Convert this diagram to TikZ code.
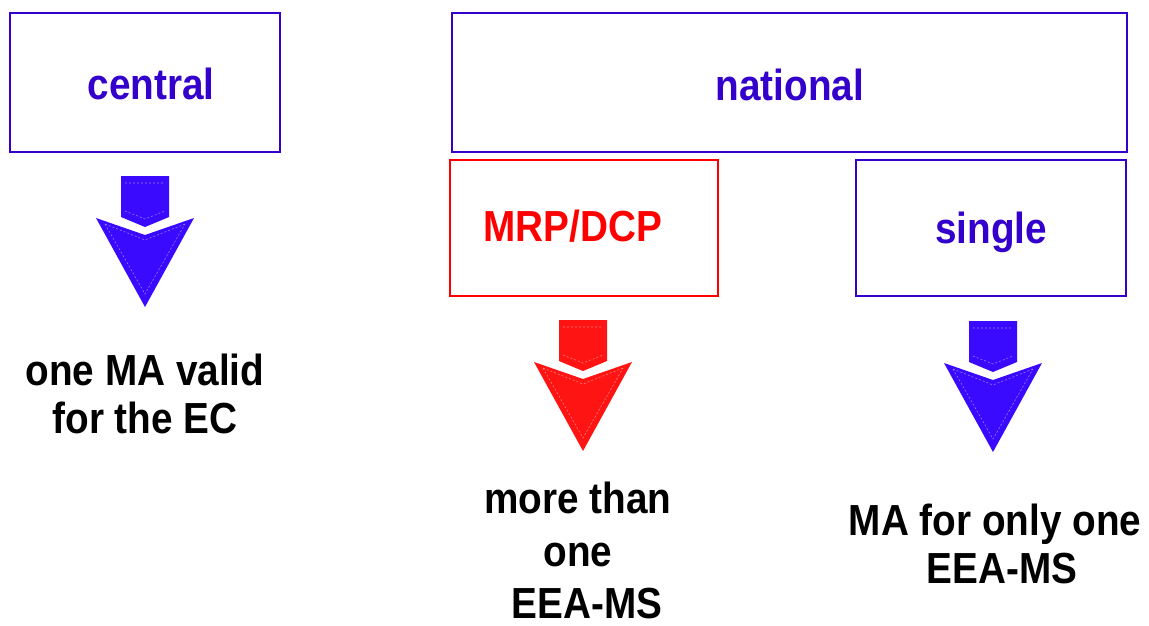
\documentclass[tikz,border=0pt]{standalone}
\usepackage{fontspec}
\setmainfont{Liberation Sans}
\usepackage{graphicx}
\definecolor{lblblue}{RGB}{51,0,204}
\definecolor{boxblue}{RGB}{51,0,204}
\definecolor{arrblue}{RGB}{58,10,255}
\definecolor{arrred}{RGB}{255,20,20}
\definecolor{boxred}{RGB}{255,0,0}
\newcommand{\sqz}[1]{\scalebox{0.89}[1]{#1}}
\tikzset{
  box/.style={draw=boxblue, line width=2.6pt, fill=white, inner sep=0pt},
  redbox/.style={draw=boxred, line width=2.2pt, fill=white, inner sep=0pt},
  boxlabel/.style={anchor=base, inner sep=0pt, font=\fontsize{43.5}{48}\selectfont\bfseries},
  bodytext/.style={anchor=base, inner sep=0pt, text=black, font=\fontsize{43.5}{48}\selectfont\bfseries},
  blockarrow/.pic={
    \fill[pic actions] (-24,0) -- (24,0) -- (24,41) -- (0,51) -- (-24,41) -- cycle;
    \fill[pic actions] (-49,42) -- (0,59) -- (49,42) -- (0,131) -- cycle;
    \draw[white, opacity=0.45, line width=0.6pt, dash pattern=on 2pt off 2pt]
      (-20,7) -- (20,7)
      (-20,35) -- (0,43) -- (20,35)
      (-40,48) -- (0,64) -- (40,48)
      (-40,48) -- (0,118) -- (40,48);
  }
}
\begin{document}
\begin{tikzpicture}[x=1pt, y=-1pt]
\useasboundingbox (0,0) rectangle (1149,625);
% boxes
\node[box, minimum width=270pt, minimum height=139pt] (central) at (145,82.5) {};
\node[box, minimum width=675pt, minimum height=139pt] (national) at (789.5,82.5) {};
\node[redbox, minimum width=268pt, minimum height=136pt] (mrp) at (584,228) {};
\node[box, line width=2.2pt, minimum width=270pt, minimum height=136pt] (single) at (991,228) {};
% box labels
\node[boxlabel, text=lblblue] (centrallbl) at (151,99) {\sqz{central}};
\node[boxlabel, text=lblblue] (nationallbl) at (790,100) {\sqz{national}};
\node[boxlabel, text=boxred] (mrplbl) at (573,241) {\sqz{MRP/DCP}};
\node[boxlabel, text=lblblue] (singlelbl) at (991,243) {\sqz{single}};
% arrows
\pic[fill=arrblue] (arrc) at (145,176) {blockarrow};
\pic[fill=arrred] (arrm) at (583,320) {blockarrow};
\pic[fill=arrblue] (arrs) at (993,321) {blockarrow};
% texts
\node[bodytext] (t1) at (145,385) {\sqz{\begin{tabular}[t]{@{}c@{}}one MA valid\\for the EC\end{tabular}}};
\node[bodytext] (t2a) at (578,513) {\sqz{more than}};
\node[bodytext] (t2b) at (578,566) {\sqz{one}};
\node[bodytext] (t2c) at (587,618) {\sqz{EEA-MS}};
\node[bodytext] (t3) at (995,535) {\sqz{\begin{tabular}[t]{@{}c@{}}MA for only one\\\hspace*{16pt}EEA-MS\end{tabular}}};
\end{tikzpicture}
\end{document}
